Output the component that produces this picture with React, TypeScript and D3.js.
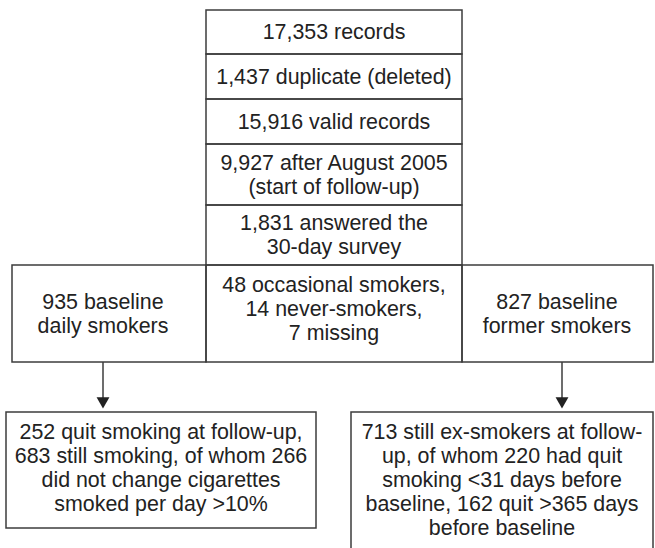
import React, { useEffect, useRef } from 'react';
import * as d3 from 'd3';

// box texts, top to bottom
const stackLabels: string[][] = [
  ['17,353 records'],
  ['1,437 duplicate (deleted)'],
  ['15,916 valid records'],
  ['9,927 after August 2005', '(start of follow-up)'],
  ['1,831 answered the', '30-day survey'],
];

const splitLabels: string[][] = [
  ['935 baseline', 'daily smokers'],
  ['48 occasional smokers,', '14 never-smokers,', '7 missing'],
  ['827 baseline', 'former smokers'],
];

const outcomeLabels: string[][] = [
  ['252 quit smoking at follow-up,', '683 still smoking, of whom 266', 'did not change cigarettes', 'smoked per day >10%'],
  ['713 still ex-smokers at follow-', 'up, of whom 220 had quit', 'smoking <31 days before', 'baseline, 162 quit >365 days', 'before baseline'],
];

// layout
const width = 655;
const height = 548;
const stackX = [206, 462];
const stackEdges = [10, 54, 99, 144, 205, 265];
const splitEdgesX = [12, 206, 462, 653];
const splitY = [265, 362];
const splitTextX = [103, 334, 557];
const splitTextShift = [0, -5, 0];
const outcomeX = [[6, 316], [351, 653]];
const outcomeY = [[412, 528], [412, 562]];
const arrowX = [103, 562];
const lineH = 24;
const stroke = '#3c3c3c';

type Box = { x0: number; x1: number; y0: number; y1: number; lines: string[]; cx?: number; shift?: number; top?: boolean };

const App = () => {
  const ref = useRef<SVGSVGElement | null>(null);

  useEffect(() => {
    const svg = d3.select(ref.current);
    svg.selectAll('*').remove();

    const boxes: Box[] = [];
    stackLabels.forEach((lines, i) => {
      boxes.push({ x0: stackX[0], x1: stackX[1], y0: stackEdges[i], y1: stackEdges[i + 1], lines });
    });
    splitLabels.forEach((lines, i) => {
      boxes.push({
        x0: splitEdgesX[i], x1: splitEdgesX[i + 1], y0: splitY[0], y1: splitY[1],
        lines, cx: splitTextX[i], shift: splitTextShift[i],
      });
    });
    outcomeLabels.forEach((lines, i) => {
      boxes.push({ x0: outcomeX[i][0], x1: outcomeX[i][1], y0: outcomeY[i][0], y1: outcomeY[i][1], lines, top: true });
    });

    const g = svg.append('g');

    g.selectAll('rect.box')
      .data(boxes)
      .enter()
      .append('rect')
      .attr('class', 'box')
      .attr('x', d => d.x0)
      .attr('y', d => d.y0)
      .attr('width', d => d.x1 - d.x0)
      .attr('height', d => d.y1 - d.y0)
      .attr('fill', 'none')
      .attr('stroke', stroke)
      .attr('stroke-width', 1.5);

    const texts = g.selectAll('text.label')
      .data(boxes)
      .enter()
      .append('text')
      .attr('class', 'label')
      .attr('text-anchor', 'middle')
      .attr('font-family', 'Arial, "Liberation Sans", sans-serif')
      .attr('font-size', 21.4)
      .attr('fill', '#222');

    texts.each(function (d) {
      const cx = d.cx ?? (d.x0 + d.x1) / 2;
      const n = d.lines.length;
      const cy = d.top ? d.y0 + 20 + ((n - 1) * lineH) / 2 : (d.y0 + d.y1) / 2 + (d.shift || 0);
      d3.select(this)
        .selectAll('tspan')
        .data(d.lines)
        .enter()
        .append('tspan')
        .attr('x', cx)
        .attr('y', (_, i) => cy + (i - (n - 1) / 2) * lineH)
        .attr('dy', '0.35em')
        .text(t => t);
    });

    // arrows
    const arrow = d3.symbol().type(d3.symbolTriangle).size(72);
    arrowX.forEach((x, i) => {
      const tip = outcomeY[i][0] - 4;
      g.append('line')
        .attr('x1', x)
        .attr('x2', x)
        .attr('y1', splitY[1])
        .attr('y2', tip - 8)
        .attr('stroke', stroke)
        .attr('stroke-width', 1.5);
      g.append('path')
        .attr('d', arrow() as string)
        .attr('transform', `translate(${x},${tip - 7}) rotate(180)`)
        .attr('fill', '#222');
    });
  }, []);

  return (
    <svg
      ref={ref}
      width={width}
      height={height}
      style={{ position: 'absolute', left: 0, top: 0, background: '#fff' }}
    />
  );
};

export default App;
